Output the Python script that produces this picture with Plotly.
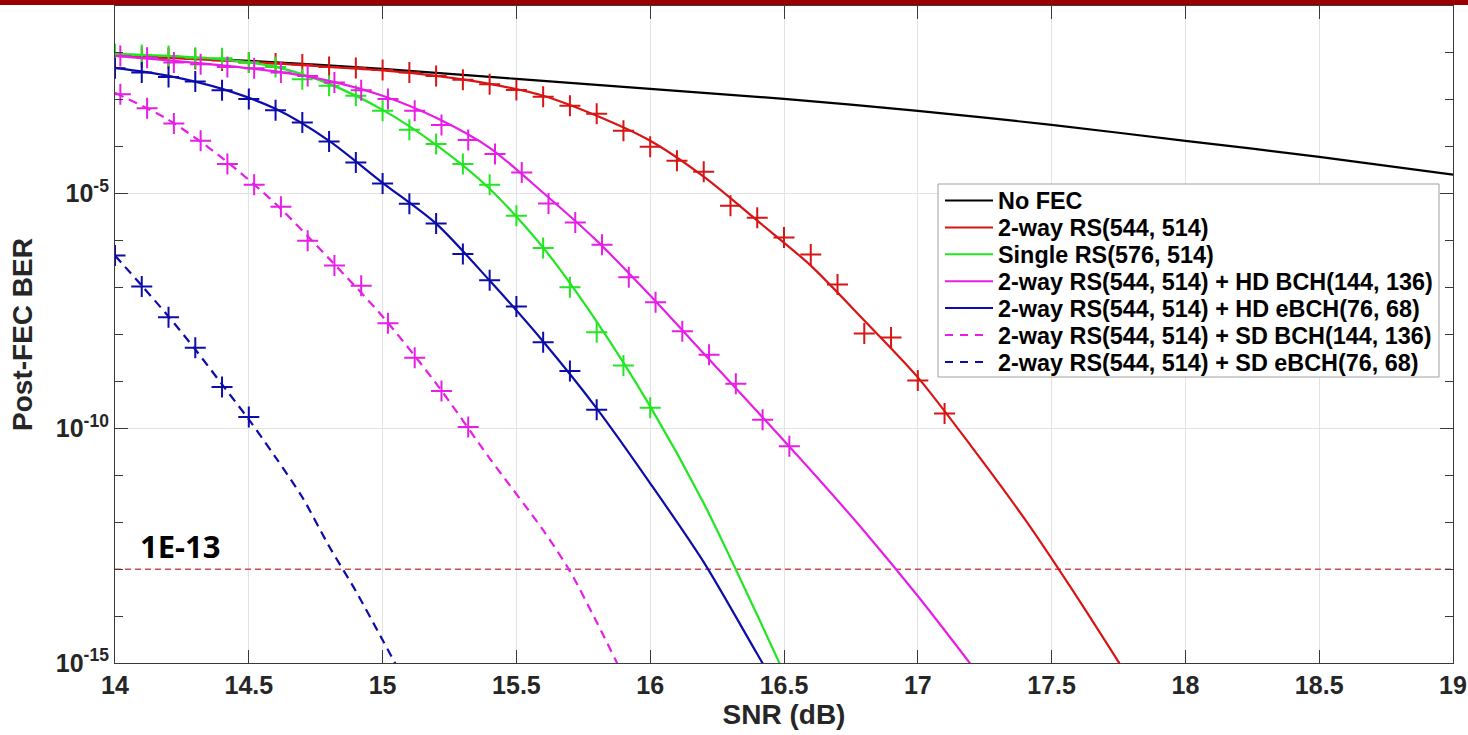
import plotly.graph_objects as go

# ---------------- data ----------------
snr_nofec = [14.0, 14.5, 15.0, 15.5, 16.0, 16.5, 17.0, 17.5, 18.0, 18.5, 19.0]
ber_nofec = [9.06e-3, 6.76e-3, 4.57e-3, 2.80e-3, 1.71e-3, 1.05e-3, 5.83e-4, 2.94e-4, 1.34e-4, 6.12e-5, 2.54e-5]

# 2-way RS(544,514)
snr_rs2_line = [14.0, 14.2, 14.4, 14.6, 14.8, 15.0, 15.2, 15.4, 15.6, 15.8, 16.0, 16.2, 16.4, 16.6, 16.8, 17.0, 17.2, 17.4, 17.6, 17.8]
ber_rs2_line = [8.63e-3, 7.83e-3, 6.92e-3, 5.98e-3, 5.04e-3, 4.25e-3, 3.24e-3, 2.19e-3, 1.22e-3, 4.57e-4, 1.34e-4, 2.30e-5,
                2.67e-6, 2.94e-7, 1.99e-8, 1.22e-9, 4.14e-11, 1.16e-12, 2.30e-14, 3.75e-16]
snr_rs2_pts = [14.0, 14.1, 14.2, 14.3, 14.4, 14.5, 14.6, 14.7, 14.8, 14.9, 15.0, 15.1, 15.2, 15.3, 15.4, 15.5,
               15.6, 15.7, 15.8, 15.9, 16.0, 16.1, 16.2, 16.3, 16.4, 16.5, 16.6, 16.7, 16.8, 16.9, 17.0, 17.1]
ber_rs2_pts = [8.63e-3, 8.22e-3, 7.83e-3, 7.45e-3, 6.92e-3, 6.28e-3, 5.98e-3, 5.69e-3, 5.04e-3, 4.80e-3, 4.35e-3,
               3.81e-3, 3.24e-3, 2.67e-3, 2.16e-3, 1.63e-3, 1.16e-3, 7.45e-4, 5.04e-4, 2.19e-4, 1.0e-4, 5.04e-5,
               2.94e-5, 5.56e-6, 3.08e-6, 1.16e-6, 5.04e-7, 1.16e-7, 1.05e-8, 8.63e-9, 1.05e-9, 2.08e-10]

# Single RS(576,514)
snr_rs1_line = [14.0, 14.2, 14.4, 14.6, 14.8, 15.0, 15.2, 15.4, 15.6, 15.8, 16.0, 16.2, 16.4, 16.5]
ber_rs1_line = [9.53e-3, 8.63e-3, 7.27e-3, 5.04e-3, 2.19e-3, 6.12e-4, 1.10e-4, 1.28e-5, 7.10e-7, 1.89e-8, 2.94e-10,
                2.54e-12, 1.05e-14, 6.12e-16]
snr_rs1_pts = [14.0, 14.1, 14.2, 14.3, 14.4, 14.5, 14.6, 14.7, 14.8, 14.9, 15.0, 15.1, 15.2, 15.3, 15.4, 15.5,
               15.6, 15.7, 15.8, 15.9, 16.0]
ber_rs1_pts = [9.37e-3, 9.06e-3, 8.63e-3, 7.94e-3, 7.71e-3, 6.22e-3, 5.04e-3, 2.75e-3, 1.99e-3, 1.22e-3, 5.83e-4,
               2.30e-4, 1.14e-4, 4.28e-5, 1.55e-5, 3.40e-6, 7.00e-7, 1.01e-7, 1.12e-8, 2.19e-9, 2.75e-10]

# 2-way RS + HD BCH(144,136)
snr_hdbch_line = [14.0, 14.2, 14.4, 14.6, 14.8, 15.0, 15.2, 15.4, 15.6, 15.8, 16.0, 16.2, 16.4, 16.6, 16.8, 17.0, 17.2]
ber_hdbch_line = [8.63e-3, 6.92e-3, 5.42e-3, 4.04e-3, 2.54e-3, 1.22e-3, 4.14e-4, 9.52e-5, 1.05e-5, 1.0e-6, 6.76e-8,
                  3.94e-9, 2.30e-10, 1.28e-11, 6.44e-13, 2.67e-14, 9.06e-16]
snr_hdbch_pts = [14.02, 14.12, 14.22, 14.32, 14.42, 14.52, 14.62, 14.72, 14.82, 14.92, 15.02, 15.12, 15.22, 15.32,
                 15.42, 15.52, 15.62, 15.72, 15.82, 15.92, 16.02, 16.12, 16.22, 16.32, 16.42, 16.52]
ber_hdbch_pts = [8.63e-3, 7.94e-3, 6.22e-3, 5.75e-3, 5.04e-3, 4.72e-3, 3.81e-3, 3.24e-3, 2.33e-3, 1.61e-3, 1.04e-3,
                 5.83e-4, 2.90e-4, 1.39e-4, 7.00e-5, 2.84e-5, 6.22e-6, 2.45e-6, 8.22e-7, 1.66e-7, 4.86e-8, 1.17e-8,
                 3.70e-9, 8.93e-10, 1.53e-10, 4.14e-11]

# 2-way RS + HD eBCH(76,68)
snr_hdebch_line = [14.0, 14.2, 14.4, 14.6, 14.8, 15.0, 15.2, 15.4, 15.6, 15.8, 16.0, 16.2, 16.4, 16.5]
ber_hdebch_line = [4.80e-3, 3.24e-3, 1.71e-3, 6.44e-4, 1.34e-4, 1.71e-5, 2.30e-6, 1.41e-7, 7.10e-9, 2.67e-10,
                   6.76e-12, 1.41e-13, 1.55e-15, 1.63e-16]
snr_hdebch_pts = [14.0, 14.1, 14.2, 14.3, 14.4, 14.5, 14.6, 14.7, 14.8, 14.9, 15.0, 15.1, 15.2, 15.3, 15.4, 15.5,
                  15.6, 15.7, 15.8]
ber_hdebch_pts = [4.72e-3, 3.81e-3, 3.08e-3, 2.45e-3, 1.61e-3, 1.04e-3, 6.04e-4, 3.29e-4, 1.30e-4, 4.63e-5, 1.66e-5,
                  6.12e-6, 2.33e-6, 5.21e-7, 1.43e-7, 3.94e-8, 6.85e-9, 1.66e-9, 2.50e-10]

# 2-way RS + SD BCH(144,136)
snr_sdbch_line = [14.0, 14.2, 14.4, 14.6, 14.8, 15.0, 15.2, 15.4, 15.6, 15.7, 15.8, 15.9]
ber_sdbch_line = [1.41e-3, 3.75e-4, 5.83e-5, 6.12e-6, 4.14e-7, 2.42e-8, 9.06e-10, 2.30e-11, 6.76e-13, 9.06e-14,
                  7.45e-15, 5.29e-16]
snr_sdbch_pts = [14.02, 14.12, 14.22, 14.32, 14.42, 14.52, 14.62, 14.72, 14.82, 14.92, 15.02, 15.12, 15.22, 15.32]
ber_sdbch_pts = [1.32e-3, 6.65e-4, 3.13e-4, 1.34e-4, 4.28e-5, 1.55e-5, 5.29e-6, 1.0e-6, 2.94e-7, 1.10e-7, 1.74e-8,
                 3.19e-9, 6.22e-10, 1.07e-10]

# 2-way RS + SD eBCH(76,68)
snr_sdebch_line = [14.0, 14.1, 14.2, 14.3, 14.4, 14.5, 14.6, 14.7, 14.8, 14.9, 15.0, 15.1]
ber_sdebch_line = [4.80e-7, 1.10e-7, 2.42e-8, 4.80e-9, 8.63e-10, 1.55e-10, 2.42e-11, 3.40e-12, 3.08e-13, 3.40e-14,
                   3.08e-15, 2.67e-16]
snr_sdebch_pts = [14.0, 14.1, 14.2, 14.3, 14.4, 14.5]
ber_sdebch_pts = [4.80e-7, 1.05e-7, 2.33e-8, 5.21e-9, 7.57e-10, 1.74e-10]

threshold_ber = 1e-13
threshold_label = "1E-13"

x_ticks = [14, 14.5, 15, 15.5, 16, 16.5, 17, 17.5, 18, 18.5, 19]
y_major = [1e-15, 1e-10, 1e-5]
y_major_text = ["10<sup>-15</sup>", "10<sup>-10</sup>", "10<sup>-5</sup>"]
y_minor = [1e-14, 1e-13, 1e-12, 1e-11, 1e-9, 1e-8, 1e-7, 1e-6, 1e-4, 1e-3, 1e-2]

# ---------------- styling ----------------
C_BLACK = "#000000"
C_RED = "#d81414"
C_GREEN = "#22e622"
C_MAG = "#e61ee6"
C_BLUE = "#0c0caa"
FONT = "Liberation Sans"
DASH = "9px,6px"

series = [
    ("No FEC", snr_nofec, ber_nofec, None, None, C_BLACK, "solid"),
    ("2-way RS(544, 514)", snr_rs2_line, ber_rs2_line, snr_rs2_pts, ber_rs2_pts, C_RED, "solid"),
    ("Single RS(576, 514)", snr_rs1_line, ber_rs1_line, snr_rs1_pts, ber_rs1_pts, C_GREEN, "solid"),
    ("2-way RS(544, 514) + HD BCH(144, 136)", snr_hdbch_line, ber_hdbch_line, snr_hdbch_pts, ber_hdbch_pts, C_MAG, "solid"),
    ("2-way RS(544, 514) + HD eBCH(76, 68)", snr_hdebch_line, ber_hdebch_line, snr_hdebch_pts, ber_hdebch_pts, C_BLUE, "solid"),
    ("2-way RS(544, 514) + SD BCH(144, 136)", snr_sdbch_line, ber_sdbch_line, snr_sdbch_pts, ber_sdbch_pts, C_MAG, DASH),
    ("2-way RS(544, 514) + SD eBCH(76, 68)", snr_sdebch_line, ber_sdebch_line, snr_sdebch_pts, ber_sdebch_pts, C_BLUE, DASH),
]

# plot-area geometry (pixels) used for the hand-drawn legend
W, H = 1468, 735
ML, MR, MT, MB = 115, 15, 6, 72
PW, PH = W - ML - MR, H - MT - MB


def px(xp):
    return (xp - ML) / PW


def py(yp):
    return (H - MB - yp) / PH


fig = go.Figure()

fig.add_trace(go.Scatter(x=[14, 19], y=[threshold_ber, threshold_ber], mode="lines",
                         line=dict(color="#c8504a", width=1.5, dash="6px,4px"),
                         showlegend=False, hoverinfo="skip"))

for name, xl, yl, xp, yp, col, dash in series:
    fig.add_trace(go.Scatter(x=xl, y=yl, mode="lines", name=name, showlegend=False,
                             line=dict(color=col, width=2.2, dash=dash, shape="spline", smoothing=0.8)))
    if xp is not None:
        fig.add_trace(go.Scatter(x=xp, y=yp, mode="markers", showlegend=False,
                                 marker=dict(symbol="cross-thin", size=15, color=col,
                                             line=dict(color=col, width=2))))

fig.add_annotation(x=14.085, y=-13.0, xref="x", yref="y", text=threshold_label, showarrow=False,
                   xanchor="left", yanchor="bottom",
                   font=dict(family="Open Sans", size=31, color="#000000", weight="bold"))

# ---- legend (drawn by hand so that spacing matches) ----
shapes = [dict(type="rect", xref="paper", yref="paper", x0=-0.2, x1=1.2, y0=1.0 + 1 / PH, y1=1.0 + 7 / PH,
               fillcolor="#9b0000", line=dict(width=0), layer="above"),
          dict(type="rect", xref="paper", yref="paper", x0=px(938), x1=px(1439), y0=py(377), y1=py(184),
               fillcolor="white", line=dict(color="#a0a0a0", width=1), layer="above")]
row0, row_step = 200.5, 26.9
for i, (name, xl, yl, xp, yp, col, dash) in enumerate(series):
    yrow = row0 + i * row_step
    x_end = 993 if dash == "solid" else 988
    shapes.append(dict(type="line", xref="paper", yref="paper", x0=px(945), x1=px(x_end), y0=py(yrow), y1=py(yrow),
                       line=dict(color=col, width=2, dash="8px,7px" if dash != "solid" else "solid"), layer="above"))
    fig.add_annotation(x=px(996), y=py(yrow + 1), xref="paper", yref="paper", text=name, showarrow=False,
                       xanchor="left", yanchor="middle",
                       font=dict(family=FONT, size=23.4, color="#000000", weight="bold"))

axis_common = dict(showline=True, linecolor="#3a3a3a", linewidth=1.2, mirror="allticks",
                   ticks="inside", tickcolor="#3a3a3a", ticklen=13, tickwidth=1.2, automargin=False,
                   showgrid=True, gridcolor="#e3e3e3", gridwidth=1, zeroline=False,
                   tickfont=dict(family=FONT, size=25, color="#262626", weight="bold"))

fig.update_xaxes(range=[14, 19], tickvals=x_ticks, ticktext=[str(v) for v in x_ticks],
                 title=dict(text="SNR (dB)", font=dict(family=FONT, size=28, color="#262626", weight="bold"),
                            standoff=6),
                 **axis_common)
fig.update_yaxes(type="log", range=[-15, -1], tickvals=y_major, ticktext=y_major_text,
                 minor=dict(tickvals=y_minor, ticks="inside", ticklen=8, tickcolor="#3a3a3a", showgrid=False),
                 title=dict(text="Post-FEC BER", font=dict(family=FONT, size=28, color="#262626", weight="bold"),
                            standoff=14),
                 **axis_common)

fig.update_layout(
    width=W, height=H,
    margin=dict(l=ML, r=MR, t=MT, b=MB, autoexpand=False),
    paper_bgcolor="white", plot_bgcolor="white",
    showlegend=False,
    shapes=shapes,
)

fig.write_html("out.html", config=dict(displayModeBar=False),
               post_script="document.body.style.margin='0px';document.body.style.overflow='hidden';")
